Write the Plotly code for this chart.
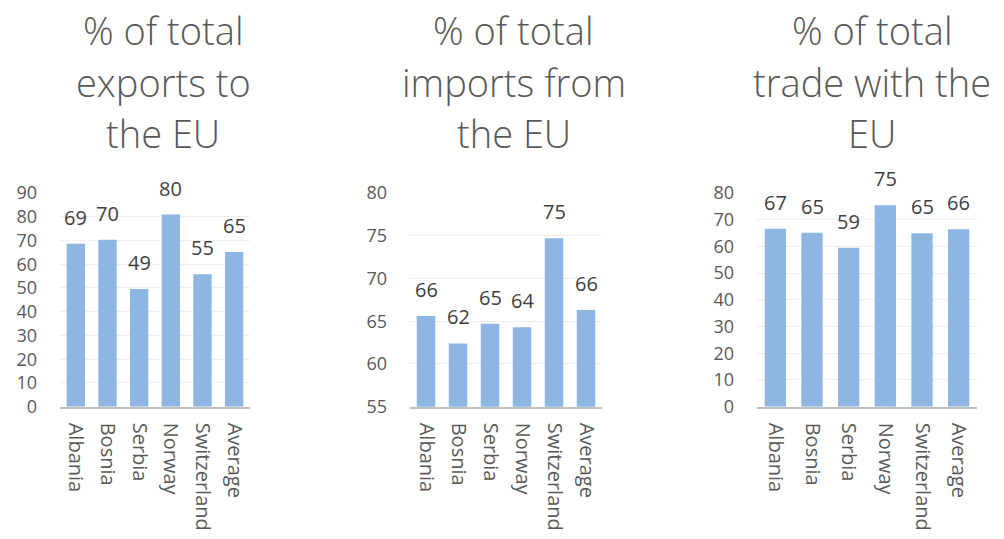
import plotly.graph_objects as go

countries = ["Albania", "Bosnia", "Serbia", "Norway", "Switzerland", "Average"]

exports_vals = [68.6, 70.3, 49.6, 80.9, 55.8, 65.1]
exports_labels = ["69", "70", "49", "80", "55", "65"]

imports_vals = [65.6, 62.4, 64.7, 64.3, 74.7, 66.3]
imports_labels = ["66", "62", "65", "64", "75", "66"]

trade_vals = [66.6, 65.1, 59.5, 75.4, 64.9, 66.4]
trade_labels = ["67", "65", "59", "75", "65", "66"]

titles = [
    ["% of total", "exports to", "the EU"],
    ["% of total", "imports from", "the EU"],
    ["% of total", "trade with the", "EU"],
]

W, H = 1004, 539
BAR = "#8db6e2"
FONT = "Open Sans"
TICKC = "#595959"

x_domains = [(60 / W, 250 / W), (410 / W, 602 / W), (757 / W, 977 / W)]
y_domain = (1 - 406.7 / H, 1 - 193 / H)
y_ranges = [(0, 90), (55, 80), (0, 80)]
y_dticks = [10, 5, 10]
series = [(exports_vals, exports_labels), (imports_vals, imports_labels), (trade_vals, trade_labels)]
title_centers = [163, 513.5, 872]
title_line_y = [30, 82, 133]

fig = go.Figure()
layout = dict(
    width=W, height=H,
    margin=dict(l=0, r=0, t=0, b=0, autoexpand=False),
    paper_bgcolor="white", plot_bgcolor="white",
    showlegend=False, bargap=0.42,
    font=dict(family=FONT, color=TICKC),
)
annotations = []
for i, ((vals, labs), xd, yr, dt) in enumerate(zip(series, x_domains, y_ranges, y_dticks)):
    sfx = "" if i == 0 else str(i + 1)
    fig.add_trace(go.Bar(
        x=countries, y=vals,
        marker=dict(color=BAR, line=dict(width=0)),
        xaxis="x" + sfx, yaxis="y" + sfx,
    ))
    for c, v, lab in zip(countries, vals, labs):
        annotations.append(dict(
            text=lab, x=c, y=v, xref="x" + sfx, yref="y" + sfx,
            xanchor="center", yanchor="bottom", yshift=11,
            showarrow=False,
            font=dict(size=20, color="#404040", family=FONT),
        ))
    layout["xaxis" + sfx] = dict(
        domain=list(xd), anchor="y" + sfx, tickangle=90,
        tickfont=dict(size=20, color=TICKC, family=FONT),
        showline=True, linecolor="#bfbfbf", linewidth=2,
        showgrid=False, ticks="", fixedrange=True,
        ticklabelstandoff=10, automargin=False,
    )
    layout["yaxis" + sfx] = dict(
        domain=list(y_domain), anchor="x" + sfx, range=list(yr), dtick=dt,
        tickfont=dict(size=18, color=TICKC, family=FONT),
        showgrid=True, gridcolor="#eeeeee", gridwidth=1,
        zeroline=False, showline=False, ticks="",
        ticklabelstandoff=22, automargin=False,
    )
    cx = title_centers[i] / W
    for j, line in enumerate(titles[i]):
        annotations.append(dict(
            text=line, x=cx, y=1 - title_line_y[j] / H,
            xref="paper", yref="paper", xanchor="center", yanchor="middle",
            showarrow=False,
            font=dict(size=38, color="#595959", family=FONT, weight=300),
        ))

layout["annotations"] = annotations
fig.update_layout(**layout)
fig.write_html(
    "out.html",
    config={"displayModeBar": False},
    post_script="document.body.style.margin='0';",
)
